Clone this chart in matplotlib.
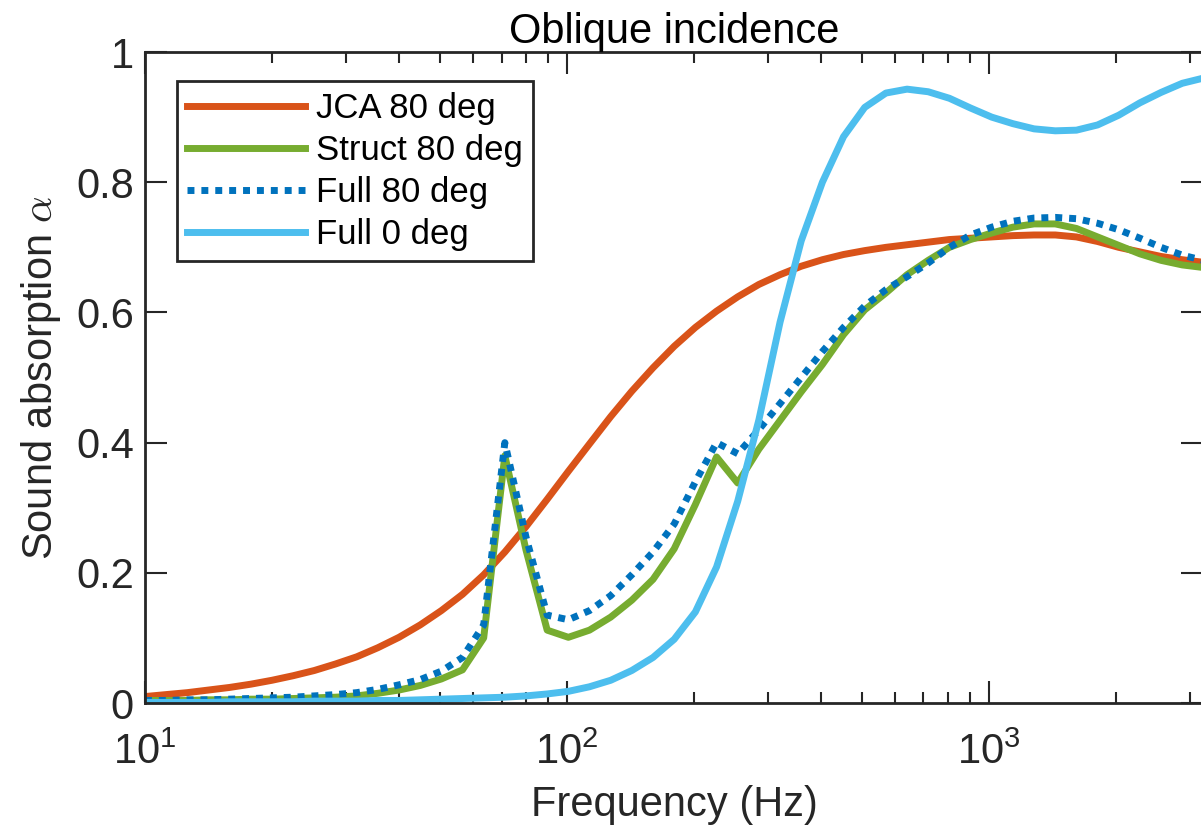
import matplotlib
matplotlib.use("Agg")
import matplotlib.pyplot as plt
from matplotlib.ticker import LogLocator, FixedLocator, NullFormatter

# Fonts: MATLAB-like look
plt.rcParams["font.family"] = ["Liberation Sans", "DejaVu Sans"]
plt.rcParams["mathtext.fontset"] = "cm"

# Data (1/6 octave frequency points)
freq_hz = [10.0, 11.22, 12.6, 14.14, 15.87, 17.82, 20.0, 22.45, 25.2, 28.28,
           31.75, 35.64, 40.0, 44.9, 50.4, 56.57, 63.5, 71.27, 80.0, 89.8,
           100.8, 113.1, 127.0, 142.5, 160.0, 179.6, 201.6, 226.3, 254.0, 285.1,
           320.0, 359.2, 403.2, 452.5, 508.0, 570.2, 640.0, 718.4, 806.3, 905.1,
           1016, 1140, 1280, 1437, 1613, 1810, 2032, 2281, 2560, 2874, 3225]

jca_80 = [0.010, 0.013, 0.016, 0.020, 0.024, 0.029, 0.035, 0.042, 0.050, 0.060,
          0.071, 0.085, 0.101, 0.120, 0.142, 0.167, 0.197, 0.232, 0.271, 0.313,
          0.356, 0.398, 0.440, 0.479, 0.515, 0.548, 0.577, 0.602, 0.624, 0.643,
          0.658, 0.671, 0.681, 0.689, 0.695, 0.700, 0.704, 0.708, 0.712, 0.714,
          0.716, 0.718, 0.719, 0.719, 0.716, 0.709, 0.700, 0.693, 0.686, 0.681, 0.677]

struct_80 = [0.004, 0.004, 0.004, 0.005, 0.005, 0.006, 0.006, 0.007, 0.008, 0.009,
             0.011, 0.015, 0.020, 0.027, 0.037, 0.051, 0.100, 0.380, 0.235, 0.112,
             0.101, 0.112, 0.132, 0.158, 0.190, 0.237, 0.305, 0.378, 0.338, 0.390,
             0.434, 0.478, 0.520, 0.566, 0.604, 0.630, 0.658, 0.680, 0.700, 0.712,
             0.722, 0.731, 0.736, 0.736, 0.729, 0.716, 0.703, 0.690, 0.680, 0.673, 0.669]

full_80 = [0.004, 0.004, 0.005, 0.005, 0.006, 0.007, 0.008, 0.009, 0.011, 0.013,
           0.016, 0.021, 0.028, 0.036, 0.049, 0.070, 0.120, 0.400, 0.255, 0.135,
           0.128, 0.142, 0.165, 0.197, 0.232, 0.275, 0.340, 0.400, 0.383, 0.420,
           0.460, 0.500, 0.540, 0.577, 0.610, 0.635, 0.655, 0.676, 0.700, 0.719,
           0.731, 0.740, 0.745, 0.746, 0.744, 0.737, 0.727, 0.714, 0.700, 0.688, 0.680]

full_0 = [0.001, 0.001, 0.001, 0.001, 0.002, 0.002, 0.002, 0.002, 0.003, 0.003,
          0.003, 0.004, 0.004, 0.005, 0.006, 0.007, 0.008, 0.009, 0.011, 0.014,
          0.018, 0.025, 0.035, 0.050, 0.070, 0.098, 0.140, 0.209, 0.310, 0.435,
          0.585, 0.710, 0.800, 0.870, 0.915, 0.937, 0.943, 0.939, 0.929, 0.914,
          0.900, 0.890, 0.882, 0.879, 0.880, 0.888, 0.903, 0.922, 0.938, 0.952, 0.960]

series_labels = ["JCA 80 deg", "Struct 80 deg", "Full 80 deg", "Full 0 deg"]
y_ticks = [0, 0.2, 0.4, 0.6, 0.8, 1]
y_tick_labels = ["0", "0.2", "0.4", "0.6", "0.8", "1"]
x_ticks = [10, 100, 1000]
x_tick_labels = [r"$\mathregular{10^{1}}$", r"$\mathregular{10^{2}}$", r"$\mathregular{10^{3}}$"]

ink = "#262626"
lw = 5

fig = plt.figure(figsize=(12.01, 8.34), dpi=100)
ax = fig.add_axes([0.1207, 0.157, 1.002 - 0.1207, 0.9376 - 0.157])

ax.plot(freq_hz, jca_80, color="#D95319", lw=lw, label=series_labels[0])
ax.plot(freq_hz, struct_80, color="#77AC30", lw=lw, label=series_labels[1])
ax.plot(freq_hz, full_80, color="#0072BD", lw=lw, linestyle=(0, (1, 1)),
        dash_capstyle="butt", label=series_labels[2])
ax.plot(freq_hz, full_0, color="#4DBEEE", lw=lw, label=series_labels[3])

ax.set_xscale("log")
ax.set_xlim(10, 3225)
ax.set_ylim(0, 1)

ax.xaxis.set_major_locator(FixedLocator(x_ticks))
ax.set_xticklabels(x_tick_labels)
ax.xaxis.set_minor_locator(LogLocator(base=10, subs=[2, 3, 4, 5, 6, 7, 8, 9], numticks=20))
ax.xaxis.set_minor_formatter(NullFormatter())
ax.set_yticks(y_ticks)
ax.set_yticklabels(y_tick_labels)

ax.tick_params(which="both", direction="in", top=True, right=True,
               colors=ink, labelsize=30, width=1.5)
ax.tick_params(which="major", length=16)
ax.tick_params(which="minor", length=8)
ax.tick_params(axis="x", which="major", pad=21)
ax.tick_params(axis="y", which="major", pad=8)

for sp in ax.spines.values():
    sp.set_color(ink)
    sp.set_linewidth(2)

ax.set_title("Oblique incidence", fontsize=30, pad=5, color="black")
ax.set_xlabel("Frequency (Hz)", fontsize=30, color=ink, labelpad=9)
ax.set_ylabel(r"Sound absorption $\alpha$", fontsize=30, color=ink, labelpad=9)

leg = ax.legend(loc="upper left", bbox_to_anchor=(0.030, 0.955), borderaxespad=0,
                fontsize=25, handlelength=3.4, handletextpad=0.3, labelspacing=0.26,
                borderpad=0.3, fancybox=False, framealpha=1)
leg.get_frame().set_edgecolor(ink)
leg.get_frame().set_linewidth(2)

fig.savefig("out.png", dpi=100)
